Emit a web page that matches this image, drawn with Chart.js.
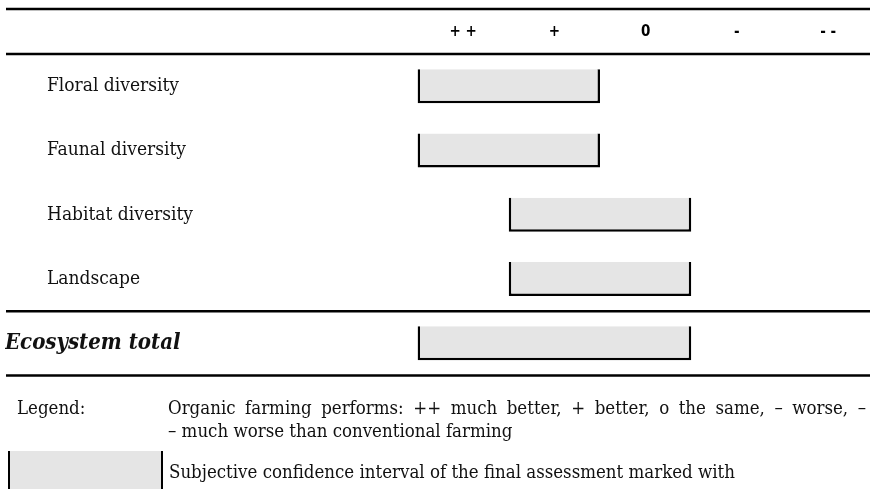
<!DOCTYPE html>
<html>
<head>
<meta charset="utf-8">
<script src="https://cdn.jsdelivr.net/npm/chart.js@4/dist/chart.umd.min.js"></script>
<style>
  html, body { margin: 0; padding: 0; background: #fff; }
  #wrap { position: relative; width: 870px; height: 489px; overflow: hidden; }
  #chart { position: absolute; left: 0; top: 0; }
  .txt { position: absolute; font-family: 'DejaVu Serif Condensed', 'DejaVu Serif', serif; font-size: 18.5px; color: #111; white-space: nowrap; line-height: 23px; }
  .just { width: 698px; text-align: justify; text-align-last: justify; }
  .swatch { position: absolute; left: 8px; top: 451px; width: 151px; height: 40px; background: #e5e5e5; border-left: 2px solid #000; border-right: 2px solid #000; }
</style>
</head>
<body>
<div id="wrap">
  <canvas id="chart" width="870" height="489"></canvas>
  <div class="txt" style="left:17px; top:396px;">Legend:</div>
  <div class="txt" style="left:168px; top:396px;">
    <div class="just">Organic farming performs: ++ much better, + better, o the same, – worse, –</div>
    <div>– much worse than conventional farming</div>
  </div>
  <div class="swatch"></div>
  <div class="txt" style="left:169px; top:460px;">Subjective confidence interval of the final assessment marked with</div>
</div>
<script>
// Les données du tableau
const rows = ["Floral diversity", "Faunal diversity", "Habitat diversity", "Landscape", "Ecosystem total"];
const scaleMarks = ["++", "+", "0", "-", "--"];
const rangeFrom = ["++", "++", "+", "+", "++"];
const rangeTo = ["+", "+", "0", "0", "0"];

// chaque intervalle couvre les cases de rangeFrom à rangeTo
const intervals = rows.map((r, i) => [
  scaleMarks.indexOf(rangeFrom[i]) - 0.5,
  scaleMarks.indexOf(rangeTo[i]) + 0.5
]);

const serif = "'DejaVu Serif Condensed', 'DejaVu Serif', serif";

// Lignes horizontales du tableau
const rulesPlugin = {
  id: "rules",
  afterDraw(chart) {
    const ctx = chart.ctx;
    const x = chart.scales.x;
    const y = chart.scales.y;
    const lines = [x.top, chart.chartArea.top, y.getPixelForValue(rows.length - 1.5), chart.chartArea.bottom];
    ctx.save();
    ctx.strokeStyle = "#000";
    ctx.lineWidth = 2.5;
    lines.forEach(py => {
      ctx.beginPath();
      ctx.moveTo(6, py);
      ctx.lineTo(chart.width, py);
      ctx.stroke();
    });
    ctx.restore();
  }
};

// Décalage des libellés (sauf la ligne du total)
const indentPlugin = {
  id: "indent",
  beforeDraw(chart) {
    const y = chart.scales.y;
    y.getLabelItems(chart.chartArea).forEach((item, i) => {
      if (i < rows.length - 1 && !item._indented) {
        item.options.translation[0] += 42;
        item._indented = true;
      }
    });
  }
};

new Chart(document.getElementById("chart"), {
  type: "bar",
  data: {
    labels: rows,
    datasets: [{
      data: intervals,
      backgroundColor: "#e5e5e5",
      borderColor: "#000",
      borderWidth: 2.5,
      borderSkipped: "top",
      inflateAmount: 0,
      barThickness: 34
    }]
  },
  options: {
    indexAxis: "y",
    responsive: false,
    animation: false,
    devicePixelRatio: 1,
    layout: { padding: { left: 5, top: 9, right: 0, bottom: 113.5 } },
    plugins: {
      legend: { display: false },
      tooltip: { enabled: false }
    },
    scales: {
      x: {
        type: "linear",
        position: "top",
        min: -0.5,
        max: 4.459,
        afterBuildTicks: scale => { scale.ticks = scaleMarks.map((m, i) => ({ value: i })); },
        afterFit: scale => { scale.height = 45; },
        grid: { display: false },
        border: { display: false },
        ticks: {
          padding: 5,
          color: "#000",
          maxRotation: 0,
          autoSkip: false,
          font: { family: "'Liberation Sans Narrow', 'DejaVu Sans Condensed', sans-serif", size: 15, weight: "bold" },
          callback: v => (scaleMarks[v] || "").split("").join(" ")
        }
      },
      y: {
        afterFit: scale => { scale.width = 412.5; },
        grid: { display: false },
        border: { display: false },
        ticks: {
          crossAlign: "far",
          color: "#111",
          font: ctx => ctx.index === rows.length - 1
            ? { family: serif, size: 22, weight: "bold", style: "italic" }
            : { family: serif, size: 19 }
        }
      }
    }
  },
  plugins: [rulesPlugin, indentPlugin]
});
</script>
</body>
</html>
